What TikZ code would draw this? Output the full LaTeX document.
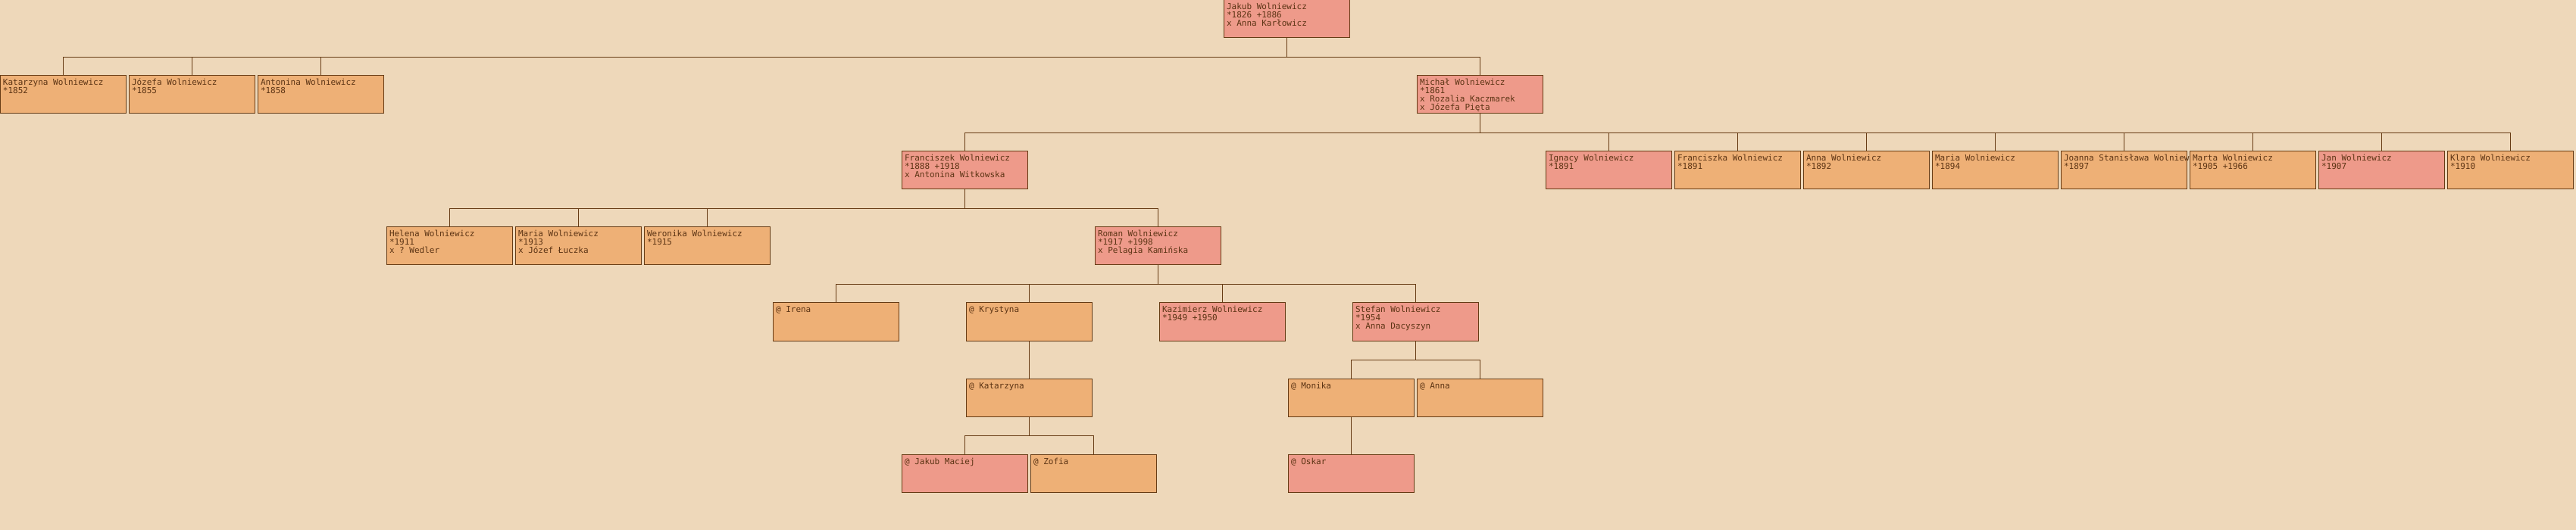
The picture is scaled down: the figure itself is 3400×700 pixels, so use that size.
\documentclass[tikz,border=0pt]{standalone}
\usepackage{fontspec}
\setmonofont{DejaVu Sans Mono}
\usepackage{tikz}
\usetikzlibrary{positioning}
\definecolor{treeBg}{HTML}{EED8BA}
\definecolor{treeMan}{HTML}{EE9A8A}
\definecolor{treeWoman}{HTML}{EEB076}
\definecolor{treeLine}{HTML}{663B14}
\definecolor{treeText}{HTML}{5C3414}
\newcommand{\pcard}[1]{\parbox[t][50pt][t]{158pt}{\rule{0pt}{13pt}#1}}

\begin{document}
\begin{tikzpicture}[
        x=1pt, y=-1pt,
        font=\ttfamily\fontsize{11}{10.9}\selectfont,
        node distance=4pt,
        person/.style={draw=treeLine, line width=1pt, text=treeText, outer sep=0pt,
                       inner xsep=4pt, inner ysep=0pt, anchor=north west},
        man/.style={person, fill=treeMan},
        woman/.style={person, fill=treeWoman},
        link/.style={draw=treeLine, line width=0.9pt},
      ]
      \fill[treeBg] (0,0) rectangle (3400,700);
      \useasboundingbox (0,0) rectangle (3400,700);
      % generation 1
      \node[man] (jakub) at (1615,0) {\pcard{Jakub Wolniewicz\\{}*1826 +1886\\x Anna Karłowicz}};
      % generation 2
      \node[woman] (katarzyna) at (0,100) {\pcard{Katarzyna Wolniewicz\\{}*1852}};
      \node[woman, right=of katarzyna] (jozefa) {\pcard{Józefa Wolniewicz\\{}*1855}};
      \node[woman, right=of jozefa] (antonina) {\pcard{Antonina Wolniewicz\\{}*1858}};
      \node[man] (michal) at (1870,100) {\pcard{Michał Wolniewicz\\{}*1861\\x Rozalia Kaczmarek\\x Józefa Pięta}};
      % generation 3
      \node[man] (franciszek) at (1190,200) {\pcard{Franciszek Wolniewicz\\{}*1888 +1918\\x Antonina Witkowska}};
      \node[man] (ignacy) at (2040,200) {\pcard{Ignacy Wolniewicz\\{}*1891}};
      \node[woman, right=of ignacy] (franciszka) {\pcard{Franciszka Wolniewicz\\{}*1891}};
      \node[woman, right=of franciszka] (anna) {\pcard{Anna Wolniewicz\\{}*1892}};
      \node[woman, right=of anna] (maria) {\pcard{Maria Wolniewicz\\{}*1894}};
      \node[woman, right=of maria] (joanna) {\pcard{\mbox{Joanna Stanisława Wolniewicz}\\{}*1897}};
      \node[woman, right=of joanna] (marta) {\pcard{Marta Wolniewicz\\{}*1905 +1966}};
      \node[man, right=of marta] (jan) {\pcard{Jan Wolniewicz\\{}*1907}};
      \node[woman, right=of jan] (klara) {\pcard{Klara Wolniewicz\\{}*1910}};
      % generation 4
      \node[woman] (helena) at (510,300) {\pcard{Helena Wolniewicz\\{}*1911\\x ? Wedler}};
      \node[woman, right=of helena] (mariaW) {\pcard{Maria Wolniewicz\\{}*1913\\x Józef Łuczka}};
      \node[woman, right=of mariaW] (weronika) {\pcard{Weronika Wolniewicz\\{}*1915}};
      \node[man] (roman) at (1445,300) {\pcard{Roman Wolniewicz\\{}*1917 +1998\\x Pelagia Kamińska}};
      % generation 5
      \node[woman] (irena) at (1020,400) {\pcard{@ Irena}};
      \node[woman] (krystyna) at (1275,400) {\pcard{@ Krystyna}};
      \node[man] (kazimierz) at (1530,400) {\pcard{Kazimierz Wolniewicz\\{}*1949 +1950}};
      \node[man] (stefan) at (1785,400) {\pcard{Stefan Wolniewicz\\{}*1954\\x Anna Dacyszyn}};
      % generation 6
      \node[woman] (katarzynaK) at (1275,500) {\pcard{@ Katarzyna}};
      \node[woman] (monika) at (1700,500) {\pcard{@ Monika}};
      \node[woman, right=of monika] (annaS) {\pcard{@ Anna}};
      % generation 7
      \node[man] (jakubM) at (1190,600) {\pcard{@ Jakub Maciej}};
      \node[woman, right=of jakubM] (zofia) {\pcard{@ Zofia}};
      \node[man] (oskar) at (1700,600) {\pcard{@ Oskar}};
      % connectors
      \coordinate (bar1) at (0,75);
      \coordinate (bar2) at (0,175);
      \coordinate (bar3) at (0,275);
      \coordinate (bar4) at (0,375);
      \coordinate (bar5) at (0,475);
      \coordinate (bar6) at (0,575);
      \draw[link] (jakub.south) -- (jakub.south |- bar1);
      \draw[link] (katarzyna.north |- bar1) -- (michal.north |- bar1);
      \foreach \c in {katarzyna,jozefa,antonina,michal}
        \draw[link] (\c.north) -- (\c.north |- bar1);
      \draw[link] (michal.south) -- (michal.south |- bar2);
      \draw[link] (franciszek.north |- bar2) -- (klara.north |- bar2);
      \foreach \c in {franciszek,ignacy,franciszka,anna,maria,joanna,marta,jan,klara}
        \draw[link] (\c.north) -- (\c.north |- bar2);
      \draw[link] (franciszek.south) -- (franciszek.south |- bar3);
      \draw[link] (helena.north |- bar3) -- (roman.north |- bar3);
      \foreach \c in {helena,mariaW,weronika,roman}
        \draw[link] (\c.north) -- (\c.north |- bar3);
      \draw[link] (roman.south) -- (roman.south |- bar4);
      \draw[link] (irena.north |- bar4) -- (stefan.north |- bar4);
      \foreach \c in {irena,krystyna,kazimierz,stefan}
        \draw[link] (\c.north) -- (\c.north |- bar4);
      \draw[link] (krystyna) -- (katarzynaK);
      \draw[link] (stefan.south) -- (stefan.south |- bar5);
      \draw[link] (monika.north |- bar5) -- (annaS.north |- bar5);
      \foreach \c in {monika,annaS}
        \draw[link] (\c.north) -- (\c.north |- bar5);
      \draw[link] (katarzynaK.south) -- (katarzynaK.south |- bar6);
      \draw[link] (jakubM.north |- bar6) -- (zofia.north |- bar6);
      \foreach \c in {jakubM,zofia}
        \draw[link] (\c.north) -- (\c.north |- bar6);
      \draw[link] (monika) -- (oskar);
    \end{tikzpicture}
\end{document}
